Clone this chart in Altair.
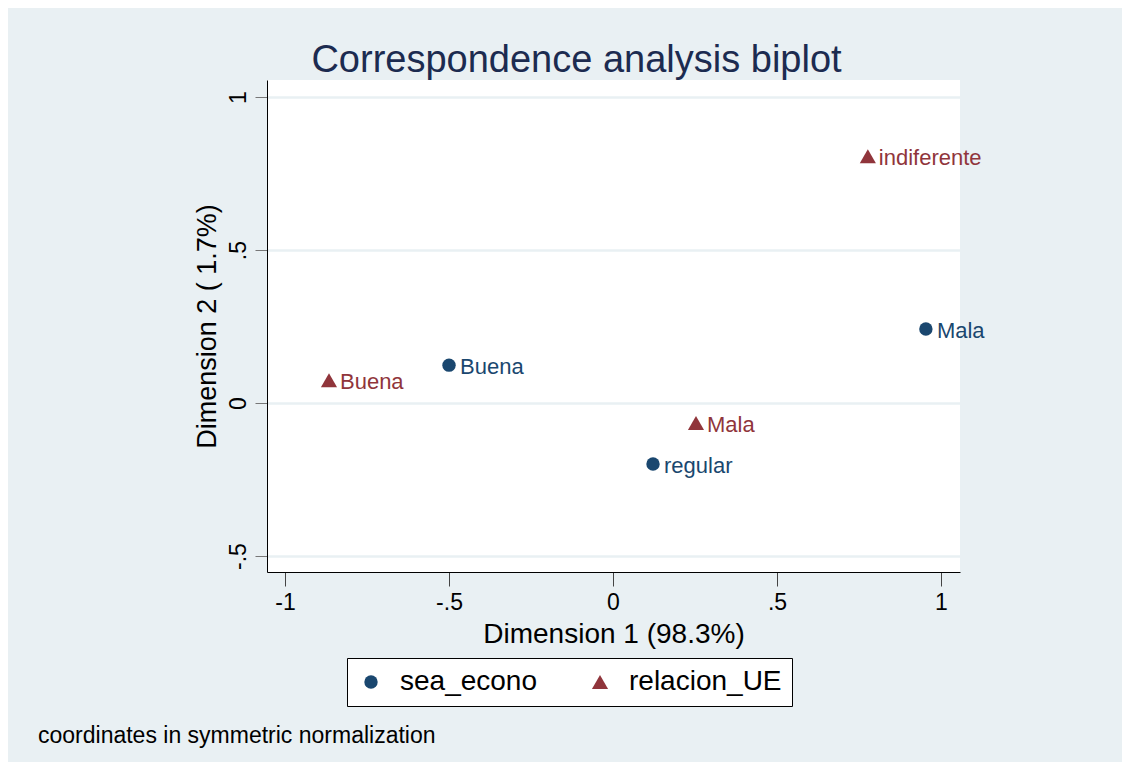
import altair as alt
import pandas as pd

# ---- data ----
groups = ["sea_econo", "sea_econo", "sea_econo", "relacion_UE", "relacion_UE", "relacion_UE"]
labels = ["Buena", "Mala", "regular", "Buena", "Mala", "indiferente"]
dim1 = [-0.500, 0.954, 0.122, -0.866, 0.253, 0.777]
dim2 = [0.124, 0.242, -0.199, 0.075, -0.065, 0.807]

x_ticks = [-1, -0.5, 0, 0.5, 1]
y_ticks = [-0.5, 0, 0.5, 1]
group_order = ["sea_econo", "relacion_UE"]
group_colors = ["#1a476f", "#90353b"]
group_shapes = ["circle", "triangle-up"]
group_sizes = [180, 260]

title_text = "Correspondence analysis biplot"
x_title = "Dimension 1 (98.3%)"
y_title = "Dimension 2 ( 1.7%)"
note_text = ["coordinates in symmetric normalization"]

df = pd.DataFrame({"group": groups, "label": labels, "dim1": dim1, "dim2": dim2})
note_df = pd.DataFrame({"note": note_text})

FONT = "Liberation Sans"
BG = "#e9f0f3"
label_expr = "replace(datum.value + '', '0.', '.')"

x_enc = alt.X(
    "dim1:Q",
    scale=alt.Scale(domain=[-1.055, 1.058], nice=False, zero=False),
    axis=alt.Axis(
        values=x_ticks, title=x_title, grid=False, labelExpr=label_expr,
        labelFontSize=23, titleFontSize=28, tickSize=14, labelPadding=5,
        titlePadding=6, domainColor="#000000", tickColor="#444444",
        labelColor="#000000", titleColor="#000000", labelFont=FONT,
        titleFont=FONT, titleFontWeight="normal", labelFlush=False,
    ),
)
y_enc = alt.Y(
    "dim2:Q",
    scale=alt.Scale(domain=[-0.552, 1.056], nice=False, zero=False),
    axis=alt.Axis(
        values=y_ticks, title=y_title, grid=True, gridColor=BG, gridWidth=2.5,
        labelExpr=label_expr, labelAngle=270, labelAlign="center",
        labelBaseline="bottom", labelFontSize=23, titleFontSize=27,
        tickSize=12, labelPadding=5, titlePadding=6, domainColor="#000000",
        tickColor="#777777", labelColor="#000000", titleColor="#000000",
        labelFont=FONT, titleFont=FONT, titleFontWeight="normal",
        labelFlush=False,
    ),
)

legend = alt.Legend(
    title=None, orient="none", legendX=80, legendY=578, direction="horizontal",
    fillColor="#ffffff", strokeColor="#000000", padding=10,
    labelFontSize=28, labelFont=FONT, labelColor="#000000",
    labelOffset=15, columnPadding=48, symbolStrokeWidth=0,
)

points = alt.Chart(df).mark_point(filled=True, opacity=1).encode(
    x=x_enc,
    y=y_enc,
    color=alt.Color("group:N", scale=alt.Scale(domain=group_order, range=group_colors), legend=legend),
    shape=alt.Shape("group:N", scale=alt.Scale(domain=group_order, range=group_shapes), legend=legend),
    size=alt.Size("group:N", scale=alt.Scale(domain=group_order, range=group_sizes), legend=legend),
)

texts = alt.Chart(df).mark_text(
    align="left", baseline="middle", dx=11, dy=2, fontSize=22, font=FONT
).encode(
    x="dim1:Q",
    y="dim2:Q",
    text="label:N",
    color=alt.condition(
        alt.datum.group == group_order[0],
        alt.value(group_colors[0]),
        alt.value(group_colors[1]),
    ),
)

note = alt.Chart(note_df).mark_text(
    align="left", baseline="alphabetic", fontSize=23, font=FONT, color="#000000"
).encode(
    x=alt.value(-229),
    y=alt.value(663),
    text="note:N",
)

chart = (
    alt.layer(points, texts, note)
    .properties(
        width=693,
        height=492,
        autosize=alt.AutoSizeParams(type="none"),
        padding={"left": 259, "top": 72, "right": 162, "bottom": 190},
        background=BG,
        title=alt.TitleParams(
            text=title_text, fontSize=38, font=FONT, color="#1c2b50",
            fontWeight="normal", anchor="middle", dx=-37, dy=37, offset=7,
            baseline="alphabetic",
        ),
    )
    .configure_view(fill="#ffffff", stroke=None)
)

chart.save("out.html", embed_options={"renderer": "svg", "actions": False})
